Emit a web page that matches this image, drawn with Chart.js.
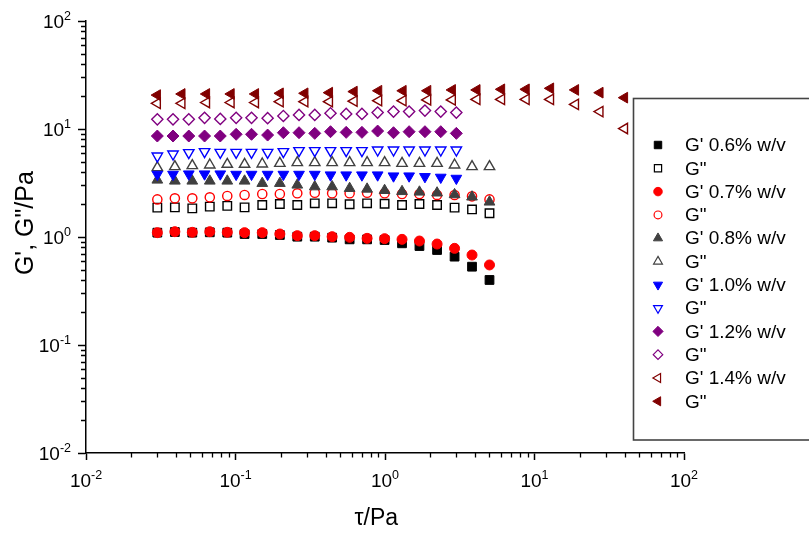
<!DOCTYPE html>
<html>
<head>
<meta charset="utf-8">
<script src="https://cdn.jsdelivr.net/npm/chart.js@4.4.1/dist/chart.umd.min.js"></script>
<style>
  html, body { margin: 0; padding: 0; background: #ffffff; }
  canvas { display: block; }
</style>
</head>
<body>
<canvas id="c" width="809" height="534"></canvas>
<script>
// ---- stress values (x), Pa ----
const tauLow  = [0.03, 0.0393, 0.0514, 0.0673, 0.0881, 0.115, 0.151, 0.198, 0.259, 0.339, 0.443, 0.58, 0.759, 0.994, 1.3, 1.7, 2.23, 2.92, 3.82, 5.0];
const tauMid  = [0.03, 0.0382, 0.0487, 0.0621, 0.0791, 0.101, 0.128, 0.164, 0.209, 0.266, 0.339, 0.432, 0.55, 0.701, 0.893, 1.14, 1.45, 1.85, 2.36, 3.0];
const tauHigh = [0.03, 0.0438, 0.064, 0.0934, 0.136, 0.199, 0.291, 0.425, 0.621, 0.907, 1.32, 1.93, 2.82, 4.12, 6.02, 8.79, 12.8, 18.8, 27.4, 40.0];

// ---- moduli (y), Pa ----
const g1_06 = [1.097, 1.112, 1.097, 1.105, 1.097, 1.066, 1.066, 1.044, 1.007, 1.007, 0.986, 0.951, 0.951, 0.938, 0.874, 0.825, 0.758, 0.658, 0.531, 0.400];
const g2_06 = [1.87, 1.88, 1.84, 1.91, 1.94, 1.88, 1.98, 2.02, 1.98, 2.05, 2.05, 2.01, 2.05, 2.03, 1.98, 2.02, 1.98, 1.87, 1.80, 1.66];
const g1_07 = [1.097, 1.120, 1.105, 1.120, 1.105, 1.097, 1.097, 1.066, 1.029, 1.029, 1.007, 0.993, 0.972, 0.965, 0.951, 0.918, 0.861, 0.785, 0.681, 0.551];
const g2_07 = [2.23, 2.28, 2.28, 2.33, 2.40, 2.45, 2.50, 2.50, 2.54, 2.57, 2.54, 2.54, 2.57, 2.54, 2.50, 2.50, 2.45, 2.45, 2.38, 2.23];
const g1_08 = [3.37, 3.30, 3.30, 3.30, 3.30, 3.30, 3.14, 3.14, 3.03, 2.92, 2.92, 2.82, 2.78, 2.70, 2.64, 2.61, 2.56, 2.47, 2.35, 2.11];
const g2_08 = [4.39, 4.48, 4.58, 4.64, 4.71, 4.71, 4.74, 4.81, 4.88, 4.88, 4.88, 4.88, 4.88, 4.88, 4.81, 4.81, 4.81, 4.64, 4.48, 4.48];
const g1_10 = [3.80, 3.80, 3.83, 3.83, 3.83, 3.80, 3.80, 3.80, 3.80, 3.80, 3.80, 3.75, 3.75, 3.75, 3.75, 3.67, 3.67, 3.62, 3.57, 3.49];
const g2_10 = [5.62, 5.87, 6.04, 6.17, 6.08, 6.08, 6.08, 6.08, 6.17, 6.30, 6.30, 6.30, 6.30, 6.30, 6.39, 6.39, 6.39, 6.39, 6.39, 6.39];
const g1_12 = [8.61, 8.61, 8.61, 8.61, 8.61, 8.93, 8.93, 8.79, 9.24, 9.24, 9.11, 9.44, 9.31, 9.31, 9.57, 9.24, 9.44, 9.44, 9.44, 9.11];
const g2_12 = [12.3, 12.3, 12.3, 12.7, 12.4, 12.7, 12.7, 12.6, 13.2, 13.5, 13.5, 14.0, 13.8, 13.8, 14.2, 14.5, 14.5, 14.8, 14.5, 14.2];
const g1_14 = [17.3, 17.3, 17.6, 17.6, 17.6, 17.9, 17.9, 17.9, 18.1, 18.3, 18.3, 18.6, 18.6, 18.8, 18.8, 18.8, 18.8, 16.9, 14.5, 10.1];
const g2_14 = [20.6, 21.1, 21.1, 21.1, 21.1, 21.4, 21.4, 21.7, 22.2, 22.6, 22.6, 22.6, 23.0, 23.0, 23.3, 23.3, 23.8, 23.0, 21.7, 19.5];

// ---- labels ----
const seriesLabels = ["G' 0.6% w/v", 'G"', "G' 0.7% w/v", 'G"', "G' 0.8% w/v", 'G"', "G' 1.0% w/v", 'G"', "G' 1.2% w/v", 'G"', "G' 1.4% w/v", 'G"'];
const tickValues = [0.01, 0.1, 1, 10, 100];
const tickBase = '10';
const tickExponents = ['-2', '-1', '0', '1', '2'];
const xTitle = '\u03C4/Pa';
const yTitle = 'G\', G"/Pa';

// ---- styles ----
const seriesX = [tauLow, tauLow, tauLow, tauLow, tauLow, tauLow, tauMid, tauMid, tauMid, tauMid, tauHigh, tauHigh];
const seriesY = [g1_06, g2_06, g1_07, g2_07, g1_08, g2_08, g1_10, g2_10, g1_12, g2_12, g1_14, g2_14];
const styles = [
  {shape: 'rect', color: '#000000', filled: true, r: 6.2, rot: 0},
  {shape: 'rect', color: '#000000', filled: false, r: 6.0, rot: 0},
  {shape: 'circle', color: '#ff0000', filled: true, r: 5.0, rot: 0},
  {shape: 'circle', color: '#ff0000', filled: false, r: 4.6, rot: 0},
  {shape: 'triangle', color: '#404040', filled: true, r: 6.2, rot: 0},
  {shape: 'triangle', color: '#404040', filled: false, r: 6.0, rot: 0},
  {shape: 'triangle', color: '#0000ff', filled: true, r: 6.2, rot: 180},
  {shape: 'triangle', color: '#0000ff', filled: false, r: 6.0, rot: 180},
  {shape: 'rectRot', color: '#800080', filled: true, r: 6.0, rot: 0},
  {shape: 'rectRot', color: '#800080', filled: false, r: 5.6, rot: 0},
  {shape: 'triangle', color: '#800000', filled: false, r: 6.0, rot: -90},
  {shape: 'triangle', color: '#800000', filled: true, r: 6.2, rot: -90}
];

const FONT = '"Liberation Sans", Arial, Helvetica, sans-serif';

const datasets = seriesY.map((ys, i) => {
  const s = styles[i];
  return {
    label: seriesLabels[i],
    data: ys.map((v, j) => ({x: seriesX[i][j], y: v})),
    showLine: false,
    pointStyle: s.shape,
    pointRotation: s.rot,
    pointRadius: s.r,
    pointHoverRadius: s.r,
    pointBorderWidth: s.filled ? 1 : 1.4,
    pointBorderColor: s.color,
    pointBackgroundColor: s.filled ? s.color : 'rgba(0,0,0,0)',
    order: 50 - i
  };
});

const extras = {
  id: 'extras',
  afterDraw(chart) {
    const ctx = chart.ctx;
    const xs = chart.scales.x, ys = chart.scales.y, a = chart.chartArea;
    ctx.save();
    // minor ticks
    ctx.strokeStyle = '#000';
    ctx.lineWidth = 1.3;
    ctx.beginPath();
    for (let d = 0; d < tickValues.length - 1; d++) {
      for (let k = 2; k <= 9; k++) {
        const v = tickValues[d] * k;
        const px = Math.round(xs.getPixelForValue(v)) + 0.5;
        ctx.moveTo(px, a.bottom);
        ctx.lineTo(px, a.bottom + 4.5);
        const py = Math.round(ys.getPixelForValue(v)) + 0.5;
        ctx.moveTo(a.left, py);
        ctx.lineTo(a.left - 5, py);
      }
    }
    ctx.stroke();

    // tick labels: 10 with superscript exponent
    const baseFont = '19px ' + FONT, expFont = '12.5px ' + FONT;
    ctx.fillStyle = '#000';
    ctx.textBaseline = 'alphabetic';
    ctx.textAlign = 'left';
    tickValues.forEach((v, i) => {
      ctx.font = baseFont;
      const wb = ctx.measureText(tickBase).width;
      ctx.font = expFont;
      const we = ctx.measureText(tickExponents[i]).width;
      // x axis
      const px = xs.getPixelForValue(v);
      const bx0 = px - (wb + we) / 2;
      const by = a.bottom + 33.5;
      ctx.font = baseFont;
      ctx.fillText(tickBase, bx0, by);
      ctx.font = expFont;
      ctx.fillText(tickExponents[i], bx0 + wb, by - 7.5);
      // y axis
      const py = ys.getPixelForValue(v);
      const right = a.left - 15;
      ctx.font = baseFont;
      ctx.fillText(tickBase, right - we - wb, py + 6.8);
      ctx.font = expFont;
      ctx.fillText(tickExponents[i], right - we, py - 0.7);
    });

    // legend box
    const bx = 633.5, byy = 98.5, bw = 200, bh = 341.5;
    ctx.fillStyle = '#ffffff';
    ctx.fillRect(bx, byy, bw, bh);
    ctx.strokeStyle = '#444444';
    ctx.lineWidth = 1.6;
    ctx.strokeRect(bx, byy, bw, bh);

    const x0 = 658, xt = 685, y0 = 145, dy = 23.3;
    ctx.font = '19px ' + FONT;
    ctx.textBaseline = 'middle';
    ctx.textAlign = 'left';
    chart.data.datasets.forEach((ds, i) => {
      const s = styles[i];
      const y = y0 + i * dy;
      ctx.fillStyle = s.filled ? s.color : 'rgba(0,0,0,0)';
      ctx.strokeStyle = s.color;
      ctx.lineWidth = s.filled ? 1 : 1.2;
      Chart.helpers.drawPoint(ctx, {pointStyle: s.shape, rotation: s.rot, radius: s.r * 0.85, borderWidth: ctx.lineWidth}, x0, y);
      ctx.fillStyle = '#000000';
      ctx.fillText(ds.label, xt, y + 1);
    });
    ctx.restore();
  }
};

new Chart(document.getElementById('c'), {
  type: 'scatter',
  data: {datasets},
  plugins: [extras],
  options: {
    responsive: false,
    devicePixelRatio: 1,
    animation: false,
    events: [],
    layout: {padding: {left: 0, right: 125, top: 21, bottom: 0}},
    plugins: {legend: {display: false}, tooltip: {enabled: false}},
    scales: {
      x: {
        type: 'logarithmic',
        position: 'bottom',
        min: 0.01,
        max: 100,
        afterFit: (s) => { s.height = 81; },
        afterBuildTicks: (s) => { s.ticks = tickValues.map(v => ({value: v, major: true})); },
        border: {display: true, color: '#000', width: 1.5},
        grid: {display: true, drawOnChartArea: false, drawTicks: true, tickLength: 7, tickWidth: 1.5, tickColor: '#000'},
        ticks: {display: false, autoSkip: false, maxRotation: 0},
        title: {display: true, text: xTitle + '  \u2009', color: '#000', font: {family: FONT, size: 23}, padding: {top: 0, bottom: 1.5}}
      },
      y: {
        type: 'logarithmic',
        position: 'left',
        min: 0.01,
        max: 100,
        afterFit: (s) => { s.width = 86; },
        afterBuildTicks: (s) => { s.ticks = tickValues.map(v => ({value: v, major: true})); },
        border: {display: true, color: '#000', width: 1.5},
        grid: {display: true, drawOnChartArea: false, drawTicks: true, tickLength: 8, tickWidth: 1.5, tickColor: '#000'},
        ticks: {display: false, autoSkip: false},
        title: {display: true, text: '    ' + yTitle, color: '#000', font: {family: FONT, size: 25}, padding: {top: 11, bottom: 0}}
      }
    }
  }
});
</script>
</body>
</html>
